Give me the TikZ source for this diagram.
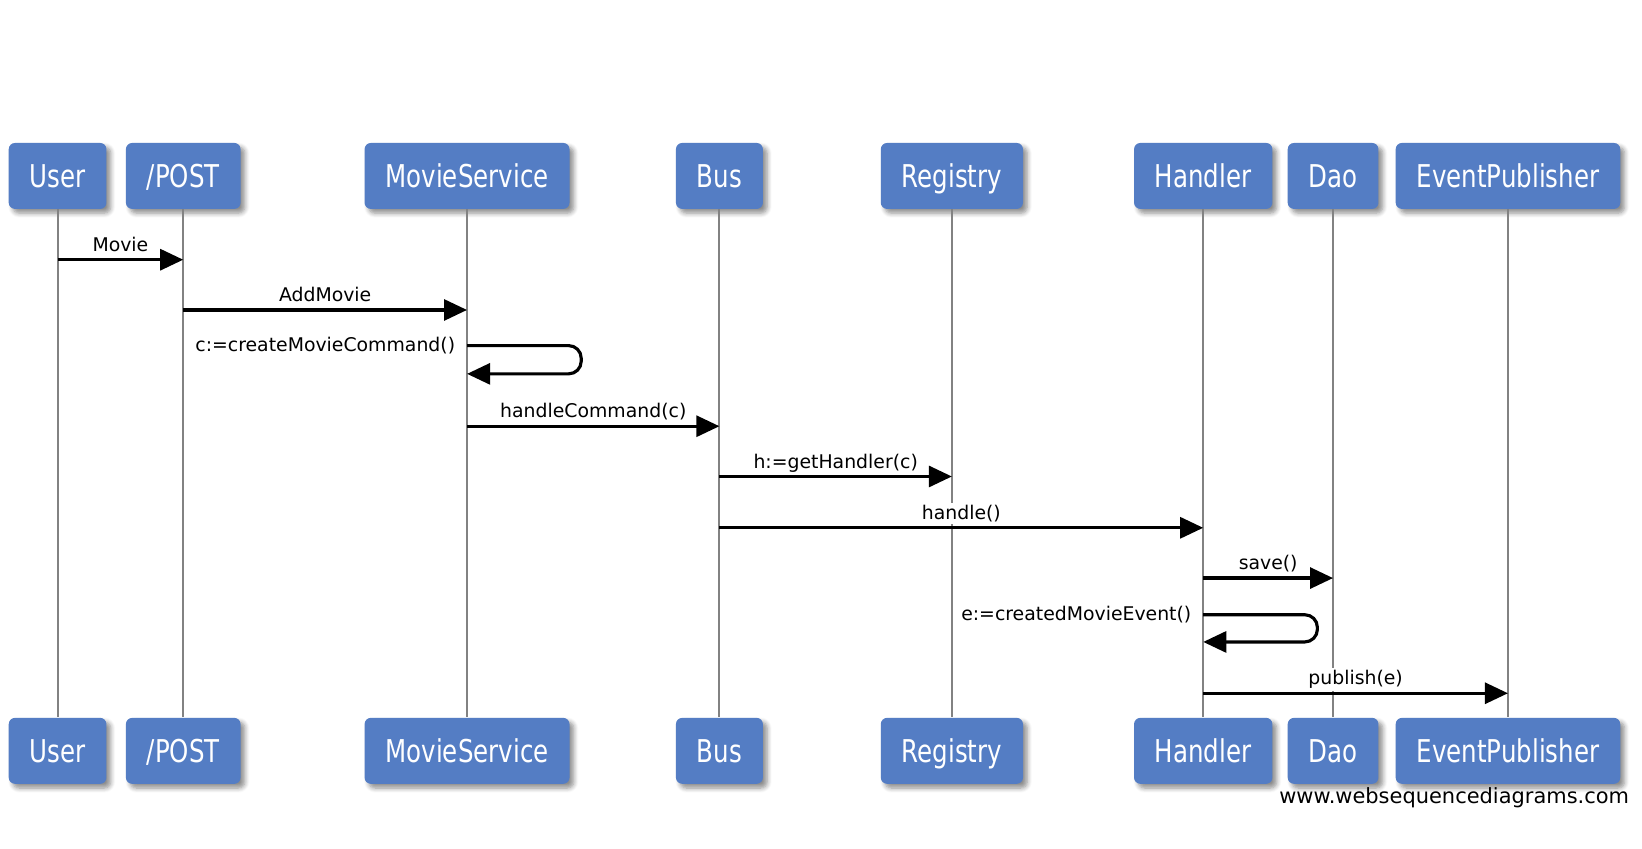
\documentclass[tikz,border=0pt]{standalone}
\usepackage{fontspec}
\setmainfont{DejaVu Sans}
\newfontfamily\actorfont[FakeStretch=0.78]{DejaVu Sans}
\usetikzlibrary{arrows.meta,shadows.blur}
\definecolor{actorblue}{RGB}{84,125,196}
\definecolor{lifegray}{RGB}{130,130,130}
\tikzset{
	actor/.style={rectangle, rounded corners=3pt, fill=actorblue, text=white,
		font=\actorfont\fontsize{15}{18}\selectfont, minimum height=31.5pt, inner xsep=10pt,
		text height=11pt, text depth=0pt,
		blur shadow={shadow xshift=2pt, shadow yshift=-2pt, shadow blur steps=6, shadow opacity=45}},
	lifeline/.style={draw=lifegray, line width=1pt},
	msg/.style={draw=black, line width=1.5pt, -{Triangle[length=11pt,width=10pt]}},
	msglabel/.style={font=\fontsize{9}{11}\selectfont, fill=white, inner sep=1pt},
}
\begin{document}
\begin{tikzpicture}[x=0.5pt, y=-0.5pt]
		\useasboundingbox (0,0) rectangle (1568,810);
		
		% Actors, top and bottom
		\foreach \n/\x/\t in {user/55/User, post/175/{/POST}, svc/446/MovieService, bus/687/Bus, reg/909/Registry, hdl/1149/Handler, dao/1273/Dao, pub/1440/EventPublisher}
		{
			\node[actor] (\n T) at (\x,168) {\t};
			\node[actor] (\n B) at (\x,717) {\t};
			\draw[lifeline] (\n T) -- (\n B);
		}
		
		% Message rows
		\coordinate (m1) at (0,248);
		\coordinate (m2) at (0,296);
		\coordinate (s1) at (0,330);
		\coordinate (s1b) at (0,357);
		\coordinate (m3) at (0,407);
		\coordinate (m4) at (0,455);
		\coordinate (m5) at (0,504);
		\coordinate (m6) at (0,552);
		\coordinate (s2) at (0,587);
		\coordinate (s2b) at (0,613);
		\coordinate (m7) at (0,662);
		
		% Messages
		\draw[msg] (userT |- m1) -- node[msglabel, anchor=base, yshift=4pt] {Movie} (postT |- m1);
		\draw[msg] (postT |- m2) -- node[msglabel, anchor=base, yshift=4pt] {AddMovie} (svcT |- m2);
		\draw[msg, rounded corners=6pt] (svcT |- s1) -- ++(109,0) |- (svcT |- s1b);
		\node[msglabel, anchor=mid east] (lblS1) at ([xshift=-4.5pt]svcT |- s1) {c:=createMovieCommand()};
		\draw[msg] (svcT |- m3) -- node[msglabel, anchor=base, yshift=4pt] {handleCommand(c)} (busT |- m3);
		\draw[msg] (busT |- m4) -- node[msglabel, anchor=base, yshift=4pt] {h:=getHandler(c)} (regT |- m4);
		\draw[msg] (busT |- m5) -- node[msglabel, anchor=base, yshift=4pt] {handle()} (hdlT |- m5);
		\draw[msg] (hdlT |- m6) -- node[msglabel, anchor=base, yshift=4pt] {save()} (daoT |- m6);
		\draw[msg, rounded corners=6pt] (hdlT |- s2) -- ++(109,0) |- (hdlT |- s2b);
		\node[msglabel, anchor=mid east] (lblS2) at ([xshift=-4.5pt]hdlT |- s2) {e:=createdMovieEvent()};
		\draw[msg] (hdlT |- m7) -- node[msglabel, anchor=base, yshift=4pt] {publish(e)} (pubT |- m7);
		
		\node[anchor=east, font=\fontsize{10}{12}\selectfont, inner sep=0pt] (wsd) at (1556,762) {www.websequencediagrams.com};
	\end{tikzpicture}
\end{document}
